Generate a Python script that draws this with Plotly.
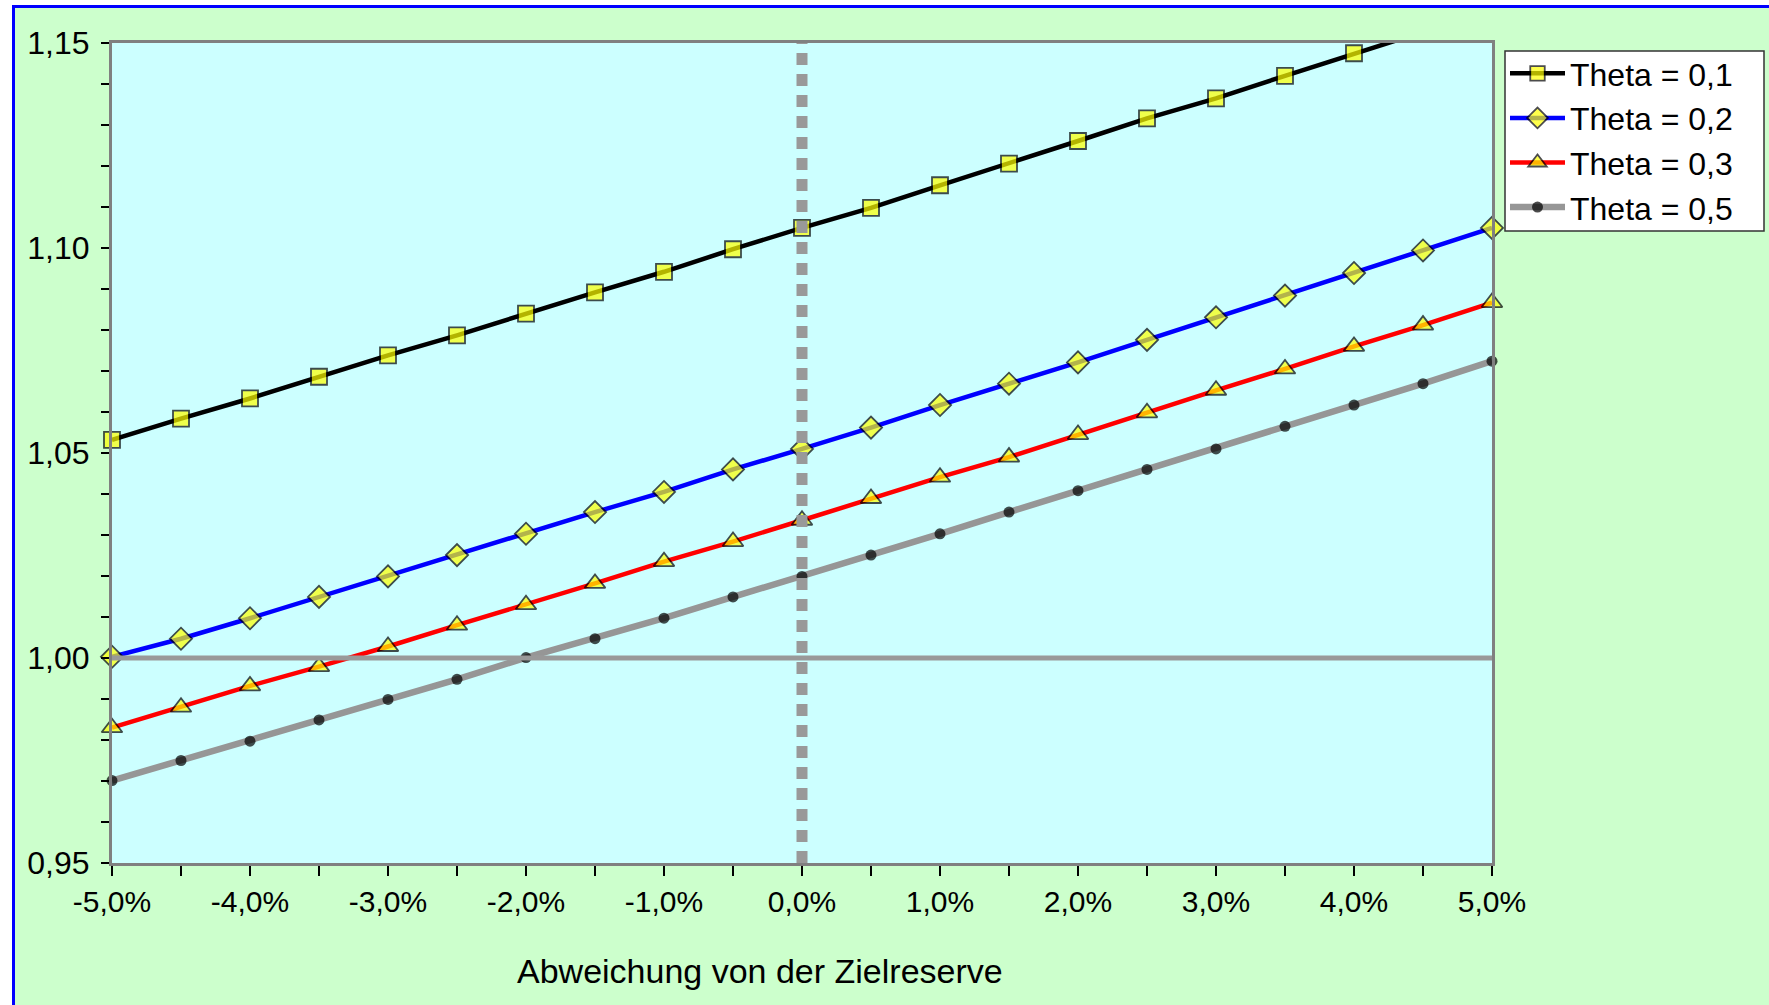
import plotly.graph_objects as go

# Abweichung von der Zielreserve in Prozent
x_pct = [-5.0, -4.5, -4.0, -3.5, -3.0, -2.5, -2.0, -1.5, -1.0, -0.5, 0.0,
         0.5, 1.0, 1.5, 2.0, 2.5, 3.0, 3.5, 4.0, 4.5, 5.0]

theta_01 = [1.0532, 1.0584, 1.0633, 1.0686, 1.0738, 1.0787, 1.0840, 1.0892,
            1.0942, 1.0997, 1.1049, 1.1098, 1.1153, 1.1206, 1.1261, 1.1316,
            1.1365, 1.1420, 1.1475, 1.1527, 1.1580]
theta_02 = [1.0003, 1.0047, 1.0097, 1.0149, 1.0199, 1.0251, 1.0303, 1.0356,
            1.0405, 1.0460, 1.0510, 1.0562, 1.0617, 1.0669, 1.0721, 1.0776,
            1.0831, 1.0884, 1.0939, 1.0994, 1.1049]
theta_03 = [0.9830, 0.9880, 0.9932, 0.9979, 1.0028, 1.0080, 1.0130, 1.0182,
            1.0235, 1.0284, 1.0336, 1.0389, 1.0441, 1.0490, 1.0545, 1.0598,
            1.0653, 1.0705, 1.0760, 1.0812, 1.0867]
theta_05 = [0.9701, 0.9750, 0.9797, 0.9849, 0.9899, 0.9948, 1.0001, 1.0047,
            1.0097, 1.0149, 1.0199, 1.0251, 1.0303, 1.0356, 1.0408, 1.0460,
            1.0510, 1.0565, 1.0617, 1.0669, 1.0724]

series_names = ["Theta = 0,1", "Theta = 0,2", "Theta = 0,3", "Theta = 0,5"]

# Reference lines: ratio 1,00 and zero deviation
ref_level_x = [-5.0, 5.0]
ref_level_y = [1.00, 1.00]
ref_zero_x = [0.0, 0.0]
ref_zero_y = [0.95, 1.15]

x_tick_vals = x_pct
x_tick_labels = ["-5,0%", "", "-4,0%", "", "-3,0%", "", "-2,0%", "", "-1,0%", "",
                 "0,0%", "", "1,0%", "", "2,0%", "", "3,0%", "", "4,0%", "", "5,0%"]
y_tick_vals = [0.95, 0.96, 0.97, 0.98, 0.99, 1.00, 1.01, 1.02, 1.03, 1.04, 1.05,
               1.06, 1.07, 1.08, 1.09, 1.10, 1.11, 1.12, 1.13, 1.14, 1.15]
y_tick_labels = ["0,95", "", "", "", "", "1,00", "", "", "", "", "1,05",
                 "", "", "", "", "1,10", "", "", "", "", "1,15"]

x_title = "Abweichung von der Zielreserve"

Y_MAX = 1.15
FONT = "Liberation Sans, Arial, sans-serif"

fig = go.Figure()

styles = [
    dict(line=dict(color="#000000", width=4.5),
         marker=dict(symbol="square", size=16, color="#FFFF00",
                     line=dict(color="#000000", width=1.8))),
    dict(line=dict(color="#0000FF", width=4.5),
         marker=dict(symbol="diamond", size=17, color="#FFFF00",
                     line=dict(color="#000000", width=1.8))),
    dict(line=dict(color="#FF0000", width=4.5),
         marker=dict(symbol="triangle-up", size=18, color="#FFFF00",
                     line=dict(color="#000000", width=1.8))),
    dict(line=dict(color="#969696", width=6.5),
         marker=dict(symbol="circle", size=11, color="#000000",
                     line=dict(color="#000000", width=0))),
]

for name, ys, st in zip(series_names, [theta_01, theta_02, theta_03, theta_05], styles):
    # hide markers that fall above the value axis
    sizes = [st["marker"]["size"] if y <= Y_MAX else 0 for y in ys]
    marker = dict(st["marker"])
    marker["size"] = sizes
    fig.add_trace(go.Scatter(
        x=x_pct, y=ys, name=name, mode="lines+markers",
        line=st["line"], marker=marker, cliponaxis=False,
    ))

fig.add_trace(go.Scatter(
    x=ref_level_x, y=ref_level_y, mode="lines", showlegend=False,
    line=dict(color="#999999", width=5), hoverinfo="skip",
))
fig.add_trace(go.Scatter(
    x=ref_zero_x, y=ref_zero_y, mode="lines", showlegend=False,
    line=dict(color="#999999", width=11, dash="12px,9px"), hoverinfo="skip",
))

W, H = 1769, 1005
L, R, T, B = 112, 277, 43, 142
pw, ph = W - L - R, H - T - B

def px_x(p):
    return (p - L) / pw

def px_y(p):
    return 1 - (p - T) / ph

shapes = [
    # white surround outside the blue frame
    dict(type="rect", xref="paper", yref="paper", x0=px_x(-5), x1=px_x(13),
         y0=px_y(H + 5), y1=px_y(-5), fillcolor="#FFFFFF", line=dict(width=0),
         layer="below"),
    dict(type="rect", xref="paper", yref="paper", x0=px_x(-5), x1=px_x(W + 5),
         y0=px_y(6), y1=px_y(-5), fillcolor="#FFFFFF", line=dict(width=0),
         layer="below"),
    # blue frame edges
    dict(type="line", xref="paper", yref="paper", x0=px_x(13.5), x1=px_x(13.5),
         y0=px_y(H + 5), y1=px_y(6), line=dict(color="#0000FF", width=3)),
    dict(type="line", xref="paper", yref="paper", x0=px_x(12), x1=px_x(W + 5),
         y0=px_y(6.5), y1=px_y(6.5), line=dict(color="#0000FF", width=3)),
    # legend box
    dict(type="rect", xref="paper", yref="paper", x0=px_x(1505), x1=px_x(1764),
         y0=px_y(231), y1=px_y(51), fillcolor="#FFFFFF",
         line=dict(color="#333333", width=1.5), layer="below"),
]

fig.update_layout(
    width=W, height=H,
    margin=dict(l=L, r=R, t=T, b=B),
    paper_bgcolor="#CCFFCC",
    plot_bgcolor="#CCFFFF",
    font=dict(family=FONT, color="#000000", size=30),
    showlegend=True,
    legend=dict(
        x=px_x(1505), y=px_y(46), xanchor="left", yanchor="top",
        bgcolor="rgba(0,0,0,0)", borderwidth=0,
        font=dict(family=FONT, size=32, color="#000000"),
        itemwidth=55, tracegroupgap=0,
    ),
    shapes=shapes,
    annotations=[dict(
        text=x_title, xref="paper", yref="paper",
        x=px_x(760), y=px_y(971), xanchor="center", yanchor="middle",
        showarrow=False, font=dict(family=FONT, size=34, color="#000000"),
    )],
    hovermode=False,
)

fig.update_xaxes(
    range=[-5, 5], tickmode="array", tickvals=x_tick_vals, ticktext=x_tick_labels,
    showgrid=False, zeroline=False,
    showline=True, mirror=True, linecolor="#808080", linewidth=3,
    ticks="outside", ticklen=10, tickwidth=1.5, tickcolor="#000000",
    ticklabelstandoff=0,
    tickfont=dict(family=FONT, size=30, color="#000000"),
)
fig.update_yaxes(
    range=[0.95, 1.15], tickmode="array", tickvals=y_tick_vals, ticktext=y_tick_labels,
    showgrid=False, zeroline=False,
    showline=True, mirror=True, linecolor="#808080", linewidth=3,
    ticks="outside", ticklen=8, tickwidth=1.5, tickcolor="#000000",
    ticklabelstandoff=5,
    tickfont=dict(family=FONT, size=32, color="#000000"),
)

fig.write_html("out.html")
